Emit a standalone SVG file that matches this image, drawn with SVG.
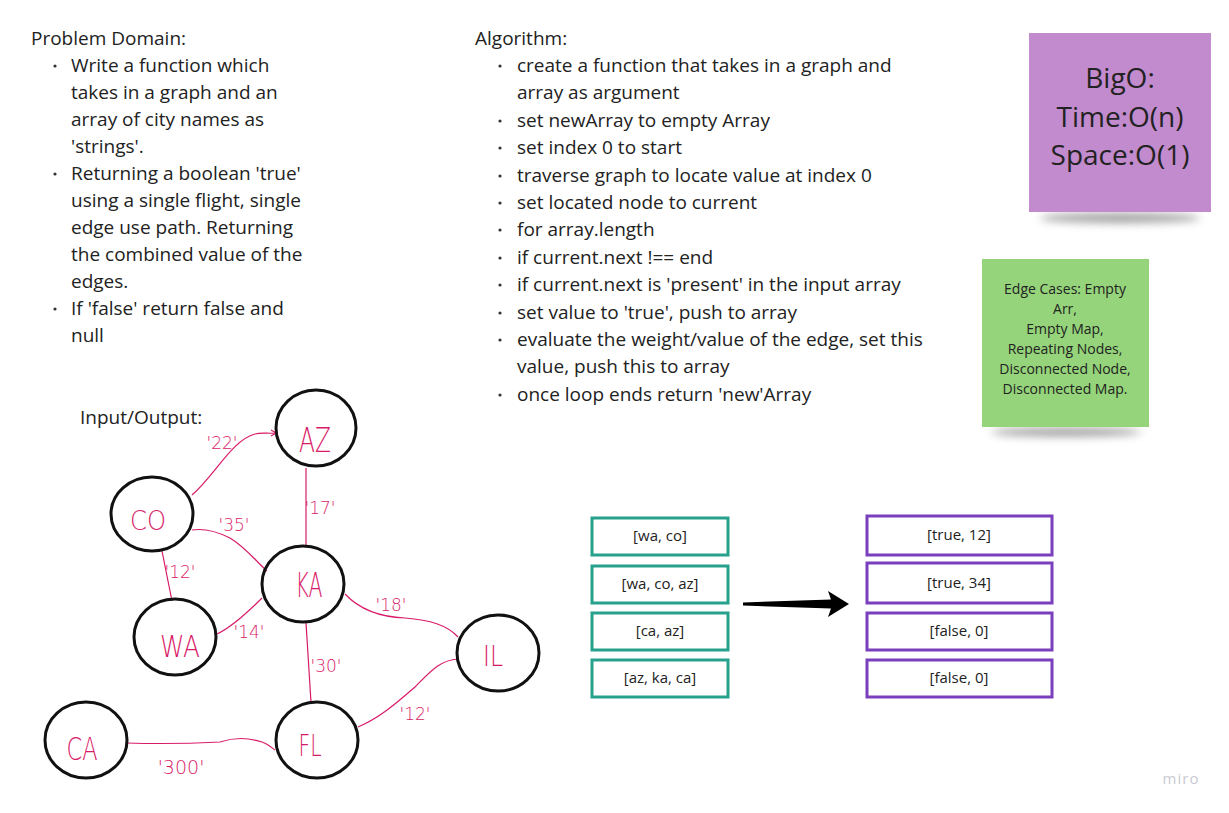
<svg xmlns="http://www.w3.org/2000/svg" width="1229" height="813" viewBox="0 0 1229 813">
<defs>
<filter id="blur" x="-20%" y="-200%" width="140%" height="500%"><feGaussianBlur stdDeviation="4"/></filter>
<style>
.t{font-family:"Open Sans","Liberation Sans",sans-serif;font-size:19px;fill:#222}
.bx{font-family:"Open Sans","Liberation Sans",sans-serif;font-size:15px;fill:#222;text-anchor:middle}
.node{fill:none;stroke:#111;stroke-width:3}
.hw{font-family:"DejaVu Sans","Liberation Sans",sans-serif;font-weight:200;fill:#d81b68;text-anchor:middle}
.el{font-family:"DejaVu Sans","Liberation Sans",sans-serif;font-weight:200;fill:#d81b68;font-size:17px;text-anchor:middle}
.edge{fill:none;stroke:#d81b68;stroke-width:1.2}
.tb{fill:#fff;stroke:#27a08c;stroke-width:3}
.pb{fill:#fff;stroke:#7a3fbd;stroke-width:3}
</style>
</defs>
<rect width="1229" height="813" fill="#fff"/>

<g id="problem-domain">
<text class="t" x="31" y="45">Problem Domain:</text>
<g fill="#333"><circle cx="55" cy="66" r="1.6"/><circle cx="55" cy="174" r="1.6"/><circle cx="55" cy="309" r="1.6"/></g>
<text class="t" x="71" y="72">Write a function which</text>
<text class="t" x="71" y="99">takes in a graph and an</text>
<text class="t" x="71" y="126">array of city names as</text>
<text class="t" x="71" y="153">'strings'.</text>
<text class="t" x="71" y="180">Returning a boolean 'true'</text>
<text class="t" x="71" y="207">using a single flight, single</text>
<text class="t" x="71" y="234">edge use path. Returning</text>
<text class="t" x="71" y="261">the combined value of the</text>
<text class="t" x="71" y="288">edges.</text>
<text class="t" x="71" y="315">If 'false' return false and</text>
<text class="t" x="71" y="342">null</text>
</g>

<g id="algorithm">
<text class="t" x="475" y="45">Algorithm:</text>
<g fill="#333">
<circle cx="500" cy="66" r="1.6"/><circle cx="500" cy="121" r="1.6"/><circle cx="500" cy="148" r="1.6"/><circle cx="500" cy="176" r="1.6"/><circle cx="500" cy="203" r="1.6"/><circle cx="500" cy="230" r="1.6"/><circle cx="500" cy="258" r="1.6"/><circle cx="500" cy="285" r="1.6"/><circle cx="500" cy="313" r="1.6"/><circle cx="500" cy="340" r="1.6"/><circle cx="500" cy="395" r="1.6"/>
</g>
<text class="t" x="517" y="72">create a function that takes in a graph and</text>
<text class="t" x="517" y="99">array as argument</text>
<text class="t" x="517" y="127">set newArray to empty Array</text>
<text class="t" x="517" y="154">set index 0 to start</text>
<text class="t" x="517" y="182">traverse graph to locate value at index 0</text>
<text class="t" x="517" y="209">set located node to current</text>
<text class="t" x="517" y="236">for array.length</text>
<text class="t" x="517" y="264">if current.next !== end</text>
<text class="t" x="517" y="291">if current.next is 'present' in the input array</text>
<text class="t" x="517" y="319">set value to 'true', push to array</text>
<text class="t" x="517" y="346">evaluate the weight/value of the edge, set this</text>
<text class="t" x="517" y="373">value, push this to array</text>
<text class="t" x="517" y="401">once loop ends return 'new'Array</text>
</g>

<g id="bigo-sticky">
<ellipse cx="1120" cy="218" rx="80" ry="5" fill="#555" opacity="0.55" filter="url(#blur)"/>
<rect x="1029" y="33" width="182" height="179" fill="#c28bcd"/>
<g font-family="'Open Sans','Liberation Sans',sans-serif" font-size="28" fill="#222" text-anchor="middle">
<text x="1120" y="88">BigO:</text>
<text x="1120" y="127">Time:O(n)</text>
<text x="1120" y="165">Space:O(1)</text>
</g>
</g>

<g id="edge-cases-sticky">
<ellipse cx="1066" cy="432" rx="75" ry="4.5" fill="#555" opacity="0.55" filter="url(#blur)"/>
<rect x="982" y="259" width="167" height="168" fill="#95d47a"/>
<g font-family="'Open Sans','Liberation Sans',sans-serif" font-size="14" fill="#222" text-anchor="middle">
<text x="1065" y="294">Edge Cases: Empty</text>
<text x="1065" y="314">Arr,</text>
<text x="1065" y="334">Empty Map,</text>
<text x="1065" y="354">Repeating Nodes,</text>
<text x="1065" y="374">Disconnected Node,</text>
<text x="1065" y="394">Disconnected Map.</text>
</g>
</g>

<g id="input-output-label">
<text class="t" x="80" y="424">Input/Output:</text>
</g>

<g id="connectors">
<path class="edge" d="M192,495 C215,475 232,440 255,434 C262,432 268,434 276,433"/>
<path class="edge" d="M271,430 L276,433 L271,436"/>
<path class="edge" d="M306,468 L306,546"/>
<path class="edge" d="M192,530 C205,528 218,532 230,538 C245,547 255,560 267,571"/>
<path class="edge" d="M162,551 L172,601"/>
<path class="edge" d="M217,634 C230,628 245,615 262,598"/>
<path class="edge" d="M345,594 C360,610 380,617 405,618 C430,620 447,625 458,637"/>
<path class="edge" d="M306,623 L311,702"/>
<path class="edge" d="M358,727 C380,718 400,700 415,687 C430,672 440,660 458,659"/>
<path class="edge" d="M127,743 C160,744 200,743 220,742 C235,737 250,738 262,742 C268,744 272,748 275,750"/>
<g class="el">
<text x="222" y="449">'22'</text>
<text x="320" y="514">'17'</text>
<text x="234" y="531">'35'</text>
<text x="180" y="578">'12'</text>
<text x="249" y="638">'14'</text>
<text x="391" y="611">'18'</text>
<text x="326" y="672">'30'</text>
<text x="415" y="720">'12'</text>
<text x="181" y="774" font-size="19">'300'</text>
</g>
</g>

<g id="node-AZ"><ellipse class="node" cx="316" cy="428" rx="40" ry="38"/><text class="hw" x="315" y="452" font-size="34" textLength="32" lengthAdjust="spacingAndGlyphs">AZ</text></g>
<g id="node-CO"><ellipse class="node" cx="152" cy="514" rx="41" ry="37"/><text class="hw" x="148" y="530" font-size="26" textLength="36" lengthAdjust="spacingAndGlyphs">CO</text></g>
<g id="node-KA"><ellipse class="node" cx="303" cy="584" rx="41" ry="38"/><text class="hw" x="309" y="597" font-size="34" textLength="27" lengthAdjust="spacingAndGlyphs">KA</text></g>
<g id="node-WA"><ellipse class="node" cx="175" cy="637" rx="41" ry="38"/><text class="hw" x="180" y="657" font-size="30" textLength="40" lengthAdjust="spacingAndGlyphs">WA</text></g>
<g id="node-IL"><ellipse class="node" cx="498" cy="653" rx="41" ry="38"/><text class="hw" x="493" y="666" font-size="28" textLength="20" lengthAdjust="spacingAndGlyphs">IL</text></g>
<g id="node-CA"><ellipse class="node" cx="86" cy="740" rx="41" ry="38"/><text class="hw" x="82" y="760" font-size="32" textLength="31" lengthAdjust="spacingAndGlyphs">CA</text></g>
<g id="node-FL"><ellipse class="node" cx="317" cy="740" rx="41" ry="38"/><text class="hw" x="310" y="756" font-size="30" textLength="23" lengthAdjust="spacingAndGlyphs">FL</text></g>

<g id="inputs">
<rect class="tb" x="592" y="518" width="136" height="37"/><text class="bx" x="660" y="541">[wa, co]</text>
<rect class="tb" x="592" y="566" width="136" height="37"/><text class="bx" x="660" y="589">[wa, co, az]</text>
<rect class="tb" x="592" y="613" width="136" height="37"/><text class="bx" x="660" y="636">[ca, az]</text>
<rect class="tb" x="592" y="660" width="136" height="37"/><text class="bx" x="660" y="683">[az, ka, ca]</text>
</g>

<g id="transform-arrow">
<path d="M743,602.5 L831,599.5 L828,591 L849,604 L828,617 L831,608.5 L743,605.5 Z" fill="#000"/>
</g>

<g id="outputs">
<rect class="pb" x="867" y="516" width="185" height="39"/><text class="bx" x="959" y="540">[true, 12]</text>
<rect class="pb" x="867" y="563" width="185" height="40"/><text class="bx" x="959" y="588">[true, 34]</text>
<rect class="pb" x="867" y="613" width="185" height="37"/><text class="bx" x="959" y="636">[false, 0]</text>
<rect class="pb" x="867" y="660" width="185" height="37"/><text class="bx" x="959" y="683">[false, 0]</text>
</g>

<text x="1181" y="784" font-family="'Open Sans','Liberation Sans',sans-serif" font-size="15" fill="#c9c9d2" text-anchor="middle" letter-spacing="1">miro</text>
</svg>
